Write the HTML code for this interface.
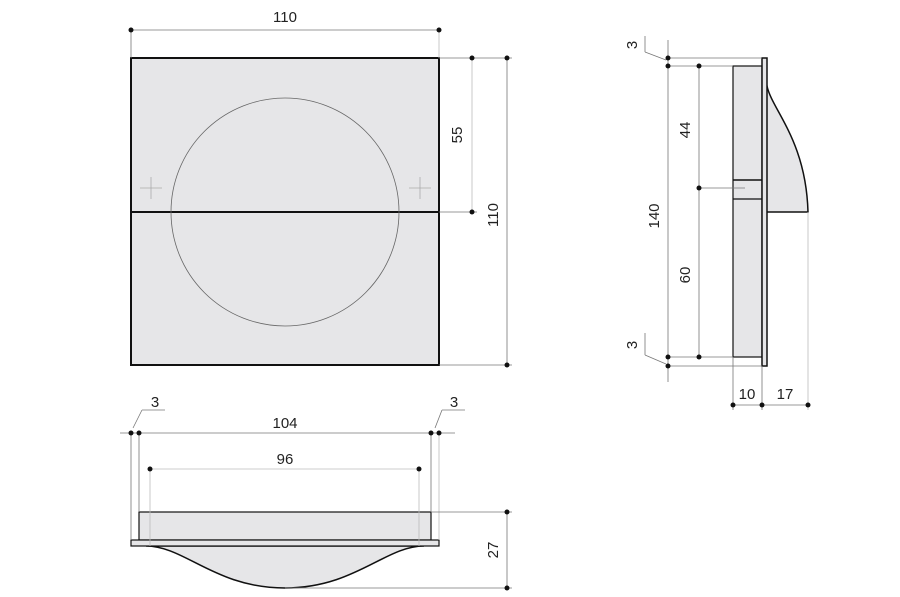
<!DOCTYPE html>
<html><head><meta charset="utf-8"><style>html,body{margin:0;padding:0;background:#fff}svg{display:block}</style></head>
<body>
<svg width="900" height="597" viewBox="0 0 900 597" xmlns="http://www.w3.org/2000/svg" font-family="Liberation Sans, sans-serif" font-size="15" fill="#222">
<!-- Front view -->
<rect x="131" y="58" width="308" height="307" fill="#e6e6e8" stroke="#111" stroke-width="2"/>
<line x1="131" y1="212" x2="439" y2="212" stroke="#111" stroke-width="2"/>
<circle cx="285" cy="212" r="114" fill="none" stroke="#666" stroke-width="0.8"/>
<g stroke="#aaa" stroke-width="0.8">
<line x1="140" y1="188" x2="162" y2="188"/><line x1="151" y1="177" x2="151" y2="199"/>
<line x1="409" y1="188" x2="431" y2="188"/><line x1="420" y1="177" x2="420" y2="199"/>
</g>
<g stroke="#777" stroke-width="0.8">
<line x1="131" y1="30" x2="439" y2="30"/><line x1="131" y1="30" x2="131" y2="58"/><line x1="439" y1="30" x2="439" y2="58" stroke="#bbb"/>
<line x1="439" y1="58" x2="512" y2="58"/><line x1="439" y1="212" x2="477" y2="212"/><line x1="439" y1="365" x2="512" y2="365"/>
<line x1="472" y1="58" x2="472" y2="212" stroke="#bbb"/><line x1="507" y1="58" x2="507" y2="365"/>
</g>
<g fill="#111"><circle cx="131" cy="30" r="2.5"/><circle cx="439" cy="30" r="2.5"/><circle cx="472" cy="58" r="2.5"/><circle cx="472" cy="212" r="2.5"/><circle cx="507" cy="58" r="2.5"/><circle cx="507" cy="365" r="2.5"/></g>
<text x="285" y="22" text-anchor="middle">110</text>
<text transform="translate(462,135) rotate(-90)" text-anchor="middle">55</text>
<text transform="translate(498,215) rotate(-90)" text-anchor="middle">110</text>

<!-- Side view -->
<path d="M767 86 C772 110 806 140 808 212 L762 212 L762 86 Z" fill="#e6e6e8" stroke="#111" stroke-width="1.5"/>
<rect x="733" y="66" width="29" height="291" fill="#e6e6e8" stroke="#111" stroke-width="1.2"/>
<line x1="733" y1="180" x2="762" y2="180" stroke="#111" stroke-width="1.5"/>
<line x1="733" y1="199" x2="762" y2="199" stroke="#111" stroke-width="1.2"/>
<rect x="762" y="58" width="5" height="308" fill="#e6e6e8" stroke="#111" stroke-width="1.5"/>
<g stroke="#777" stroke-width="0.8">
<line x1="668" y1="40" x2="668" y2="382"/>
<line x1="668" y1="58" x2="762" y2="58"/><line x1="668" y1="66" x2="733" y2="66"/>
<line x1="668" y1="357" x2="733" y2="357"/><line x1="668" y1="366" x2="762" y2="366"/>
<line x1="699" y1="66" x2="699" y2="357"/><line x1="699" y1="188" x2="745" y2="188"/>
<line x1="645" y1="36" x2="645" y2="52"/><line x1="645" y1="52" x2="666" y2="60"/>
<line x1="645" y1="333" x2="645" y2="355"/><line x1="645" y1="355" x2="666" y2="364"/>
<line x1="733" y1="357" x2="733" y2="410"/><line x1="762" y1="366" x2="762" y2="410"/>
<line x1="808" y1="212" x2="808" y2="410" stroke="#bbb"/>
<line x1="733" y1="405" x2="808" y2="405"/>
</g>
<g fill="#111"><circle cx="668" cy="58" r="2.5"/><circle cx="668" cy="66" r="2.5"/><circle cx="699" cy="66" r="2.5"/><circle cx="699" cy="188" r="2.5"/><circle cx="668" cy="357" r="2.5"/><circle cx="699" cy="357" r="2.5"/><circle cx="668" cy="366" r="2.5"/><circle cx="733" cy="405" r="2.5"/><circle cx="762" cy="405" r="2.5"/><circle cx="808" cy="405" r="2.5"/></g>
<text transform="translate(637,45) rotate(-90)" text-anchor="middle">3</text>
<text transform="translate(637,345) rotate(-90)" text-anchor="middle">3</text>
<text transform="translate(690,130) rotate(-90)" text-anchor="middle">44</text>
<text transform="translate(659,216) rotate(-90)" text-anchor="middle">140</text>
<text transform="translate(690,275) rotate(-90)" text-anchor="middle">60</text>
<text x="747" y="399" text-anchor="middle">10</text>
<text x="785" y="399" text-anchor="middle">17</text>

<!-- Bottom view -->
<path d="M146 546 C185 546 215 588 285 588 C355 588 385 546 424 546 Z" fill="#e6e6e8" stroke="#111" stroke-width="1.5"/>
<rect x="139" y="512" width="292" height="28" fill="#e6e6e8" stroke="#111" stroke-width="1.2"/>
<rect x="131" y="540" width="308" height="6" fill="#e6e6e8" stroke="#111" stroke-width="1.2"/>
<g stroke="#777" stroke-width="0.8">
<line x1="120" y1="433" x2="455" y2="433"/>
<line x1="131" y1="433" x2="131" y2="540"/><line x1="139" y1="433" x2="139" y2="512"/>
<line x1="431" y1="433" x2="431" y2="512"/><line x1="439" y1="433" x2="439" y2="540" stroke="#bbb"/>
<line x1="150" y1="469" x2="419" y2="469" stroke="#bbb"/>
<line x1="150" y1="469" x2="150" y2="546" stroke="#bbb"/><line x1="419" y1="469" x2="419" y2="546" stroke="#bbb"/>
<line x1="431" y1="512" x2="512" y2="512"/><line x1="285" y1="588" x2="512" y2="588"/>
<line x1="507" y1="512" x2="507" y2="588"/>
<line x1="133" y1="428" x2="142" y2="410"/><line x1="142" y1="410" x2="165" y2="410"/>
<line x1="435" y1="428" x2="442" y2="410"/><line x1="442" y1="410" x2="465" y2="410"/>
</g>
<g fill="#111"><circle cx="131" cy="433" r="2.5"/><circle cx="139" cy="433" r="2.5"/><circle cx="431" cy="433" r="2.5"/><circle cx="439" cy="433" r="2.5"/><circle cx="150" cy="469" r="2.5"/><circle cx="419" cy="469" r="2.5"/><circle cx="507" cy="512" r="2.5"/><circle cx="507" cy="588" r="2.5"/></g>
<text x="155" y="407" text-anchor="middle">3</text>
<text x="454" y="407" text-anchor="middle">3</text>
<text x="285" y="428" text-anchor="middle">104</text>
<text x="285" y="464" text-anchor="middle">96</text>
<text transform="translate(498,550) rotate(-90)" text-anchor="middle">27</text>
</svg>
</body></html>
